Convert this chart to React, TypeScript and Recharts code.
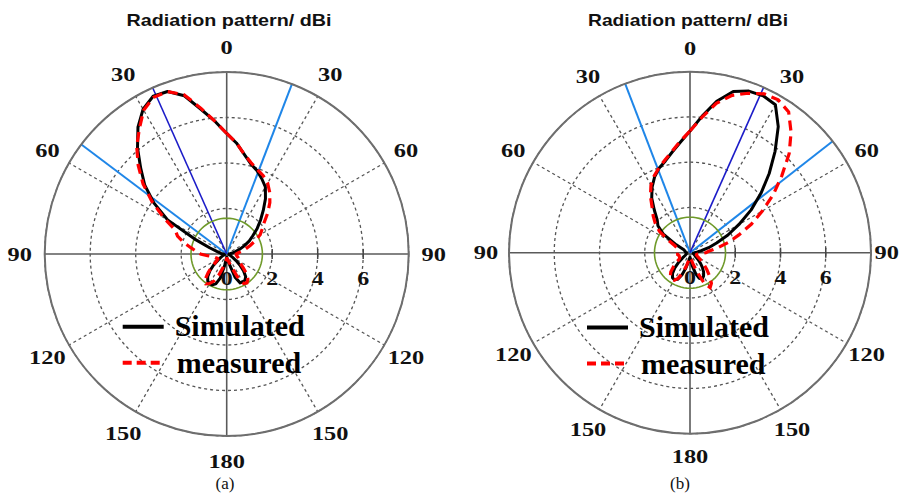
import React from 'react';
import { RadarChart, Radar, PolarGrid, PolarAngleAxis, PolarRadiusAxis } from 'recharts';

// Angles (degrees, clockwise from the top)
const angles = [
  0, 5, 10, 15, 20, 25, 30, 35, 40, 45, 50, 55, 60, 65, 70, 75, 80, 85,
  90, 95, 100, 105, 110, 115, 120, 125, 130, 135, 140, 145, 150, 155, 160, 165, 170, 175,
  180, 185, 190, 195, 200, 205, 210, 215, 220, 225, 230, 235, 240, 245, 250, 255, 260, 265,
  270, 275, 280, 285, 290, 295, 300, 305, 310, 315, 320, 325, 330, 335, 340, 345, 350, 355,
];

// Panel (a)
const simulatedA = [
  5.3, 4.9, 4.45, 4.1, 3.9, 3.65, 3.4, 2.97, 2.5, 2.1, 1.75, 1.4, 1.15, 0.85, 0.6, 0.4, 0.25, 0.15,
  0.1, 0.1, 0.1, 0.12, 0.15, 0.2, 0.3, 0.5, 0.75, 1.05, 1.3, 1.4, 1.42, 1.4, 1.1, 0.5, 0.3, 0.2,
  0.15, 0.2, 0.5, 1.1, 1.4, 1.5, 1.5, 1.45, 1.3, 1.05, 0.75, 0.45, 0.3, 0.2, 0.15, 0.1, 0.1, 0.12,
  0.15, 0.25, 0.3, 0.45, 0.8, 1.55, 3.0, 3.9, 4.7, 5.35, 6.1, 6.8, 7.35, 7.65, 7.6, 7.2, 6.45, 5.85,
];
const measuredA = [
  5.3, 4.9, 4.45, 4.15, 3.95, 3.8, 3.6, 3.3, 2.95, 2.55, 2.15, 1.9, 1.7, 1.4, 1.1, 0.85, 0.65, 0.5,
  0.42, 0.42, 0.45, 0.5, 0.55, 0.58, 0.62, 0.75, 0.95, 1.25, 1.45, 1.55, 1.5, 1.1, 0.6, 0.35, 0.25, 0.2,
  0.2, 0.3, 0.4, 0.6, 0.95, 1.3, 1.5, 1.6, 1.5, 1.15, 0.8, 0.55, 0.45, 0.45, 0.5, 0.55, 0.65, 0.85,
  1.15, 1.35, 1.6, 1.95, 2.3, 2.5, 3.2, 4.0, 4.8, 5.5, 6.15, 6.7, 7.3, 7.6, 7.6, 7.25, 6.5, 5.85,
];

// Panel (b)
const simulatedB = [
  5.38, 6.05, 6.8, 7.38, 7.6, 7.65, 7.55, 6.8, 5.85, 4.95, 4.1, 3.3, 2.5, 1.85, 1.25, 0.85, 0.5, 0.3,
  0.2, 0.18, 0.15, 0.15, 0.18, 0.2, 0.25, 0.3, 0.45, 0.65, 0.85, 1.05, 1.2, 1.28, 1.2, 0.95, 0.6, 0.3,
  0.2, 0.25, 0.4, 0.7, 1.05, 1.3, 1.38, 1.35, 1.2, 0.95, 0.65, 0.4, 0.25, 0.2, 0.18, 0.15, 0.15, 0.15,
  0.18, 0.2, 0.2, 0.22, 0.25, 0.3, 0.7, 1.45, 1.85, 2.05, 2.45, 2.95, 3.35, 3.7, 3.98, 4.2, 4.52, 4.9,
];
const measuredB = [
  5.38, 6.0, 6.7, 7.2, 7.5, 7.75, 7.8, 7.6, 6.95, 6.2, 5.3, 4.5, 3.7, 3.0, 2.3, 1.75, 1.25, 0.85,
  0.7, 0.5, 0.35, 0.3, 0.3, 0.35, 0.45, 0.6, 0.8, 1.05, 1.35, 1.65, 1.78, 1.5, 0.9, 0.5, 0.3, 0.25,
  0.2, 0.25, 0.35, 0.6, 0.95, 1.25, 1.4, 1.42, 1.35, 1.2, 0.95, 0.7, 0.55, 0.5, 0.5, 0.5, 0.55, 0.55,
  0.55, 0.55, 0.55, 0.55, 0.6, 0.75, 1.1, 1.65, 2.0, 2.3, 2.6, 3.05, 3.45, 3.75, 4.0, 4.25, 4.55, 4.95,
];

// Radial axis ticks (dBi) and reference ring
const radiusTicks = [0, 2, 4, 6, 8];
const radiusDomain = [0, 8];
const ringLevel = 1.57;

// Beam directions (degrees, clockwise from top)
const beamMainA = [-24];
const beamEdgesA = [-53, 21];
const beamMainB = [24];
const beamEdgesB = [-21, 52];

const dashedSpokes = [30, 60, 120, 150, 210, 240, 300, 330];
const solidSpokes = [0, 90, 180, 270];

const toChartAngle = (deg: number) => 90 - deg;

const buildRows = (sim: number[], mea: number[]) =>
  angles.map((a, i) => ({ angle: a, sim: sim[i], mea: mea[i], ring: ringLevel }));

const rowsA = buildRows(simulatedA, measuredA);
const rowsB = buildRows(simulatedB, measuredB);

const SERIF = '"Liberation Serif", "Times New Roman", serif';
const SANS = '"Liberation Sans", Arial, sans-serif';
const CHART_W = 450;

const AngleTick = (props: any) => {
  const { y, payload } = props;
  let x = props.x;
  const v = Number(payload.value);
  if (v % 30 !== 0) return <g />;
  const label = String(v <= 180 ? v : 360 - v);
  const w = label.length * 12.2;
  if (x + w / 2 > CHART_W - 1) x = CHART_W - 1 - w / 2;
  return (
    <text
      x={x}
      y={y}
      textAnchor="middle"
      dominantBaseline="central"
      fontFamily={SERIF}
      fontWeight="bold"
      fontSize={19}
      fill="#111"
      textLength={w}
      lengthAdjust="spacingAndGlyphs"
    >
      {label}
    </text>
  );
};

const RadiusTick = (props: any) => {
  const { x, y, payload } = props;
  const v = Number(payload.value);
  if (v >= 8) return <g />;
  const label = String(v);
  return (
    <g>
      {v > 0 && <line x1={x} y1={y - 5} x2={x} y2={y + 5} stroke="#444" strokeWidth={1.5} />}
      <text
        x={x}
        y={y + 31}
        textAnchor="middle"
        fontFamily={SERIF}
        fontWeight="bold"
        fontSize={19}
        fill="#111"
        textLength={label.length * 12}
        lengthAdjust="spacingAndGlyphs"
      >
        {label}
      </text>
    </g>
  );
};

type PanelProps = {
  rows: any[];
  left: number;
  cx: number;
  cy: number;
  r: number;
  labelGap: number;
  beamMain: number[];
  beamEdges: number[];
};

const Panel = ({ rows, left, cx, cy, r, labelGap, beamMain, beamEdges }: PanelProps) => (
  <div style={{ position: 'absolute', left, top: 0 }}>
    <RadarChart
      width={CHART_W}
      height={496}
      data={rows}
      cx={cx}
      cy={cy}
      outerRadius={r}
      startAngle={90}
      endAngle={-270}
      margin={{ top: 0, right: 0, bottom: 0, left: 0 }}
    >
      <PolarGrid
        gridType="circle"
        polarAngles={dashedSpokes.map(toChartAngle)}
        stroke="#555"
        strokeWidth={1.3}
        strokeDasharray="3 3"
      />
      <PolarGrid
        gridType="circle"
        polarAngles={solidSpokes.map(toChartAngle)}
        polarRadius={[]}
        stroke="#5a5a5a"
        strokeWidth={1.6}
      />
      <PolarGrid
        gridType="circle"
        polarAngles={beamEdges.map(toChartAngle)}
        polarRadius={[]}
        stroke="#1f86e8"
        strokeWidth={2}
      />
      <PolarGrid
        gridType="circle"
        polarAngles={beamMain.map(toChartAngle)}
        polarRadius={[]}
        stroke="#1c1cc8"
        strokeWidth={1.6}
      />
      <PolarAngleAxis
        dataKey="angle"
        tick={<AngleTick />}
        tickLine={false}
        tickSize={labelGap}
        axisLineType="circle"
        axisLine={{ stroke: '#6e6e6e', strokeWidth: 2 }}
      />
      <PolarRadiusAxis
        angle={0}
        domain={radiusDomain}
        ticks={radiusTicks}
        type="number"
        axisLine={false}
        tick={<RadiusTick />}
      />
      <Radar
        dataKey="ring"
        stroke="#6f9a2a"
        strokeWidth={1.6}
        fill="none"
        fillOpacity={0}
        dot={false}
        isAnimationActive={false}
      />
      <Radar
        dataKey="sim"
        name="Simulated"
        stroke="#000"
        strokeWidth={3}
        fill="none"
        fillOpacity={0}
        dot={false}
        strokeLinejoin="round"
        isAnimationActive={false}
      />
      <Radar
        dataKey="mea"
        name="measured"
        stroke="#ff0000"
        strokeWidth={3.2}
        strokeDasharray="10 6"
        fill="none"
        fillOpacity={0}
        dot={false}
        isAnimationActive={false}
      />
    </RadarChart>
  </div>
);

const LegendBlock = ({ x, y }: { x: number; y: number }) => (
  <g>
    <line x1={x} y1={y} x2={x + 41} y2={y} stroke="#000" strokeWidth={4} />
    <text x={x + 52} y={y + 9.5} fontFamily={SERIF} fontWeight="bold" fontSize={30} fill="#000">
      Simulated
    </text>
    <line x1={x} y1={y + 36} x2={x + 41} y2={y + 36} stroke="#ff0000" strokeWidth={4} strokeDasharray="9 5" />
    <text x={x + 54} y={y + 46} fontFamily={SERIF} fontWeight="bold" fontSize={30} fill="#000">
      measured
    </text>
  </g>
);

export default function App() {
  return (
    <div
      style={{
        position: 'absolute',
        left: 0,
        top: 0,
        width: 900,
        height: 496,
        background: '#fff',
        overflow: 'hidden',
      }}
    >
      <Panel rows={rowsA} left={0} cx={226.7} cy={254} r={182} labelGap={25} beamMain={beamMainA} beamEdges={beamEdgesA} />
      <Panel rows={rowsB} left={450} cx={240} cy={252.7} r={181} labelGap={23} beamMain={beamMainB} beamEdges={beamEdgesB} />
      <svg
        width={900}
        height={496}
        style={{ position: 'absolute', left: 0, top: 0, pointerEvents: 'none' }}
      >
        <text x={229} y={26} textAnchor="middle" fontFamily={SANS} fontWeight="bold" fontSize={16.5} fill="#111" textLength={205} lengthAdjust="spacingAndGlyphs">
          Radiation pattern/ dBi
        </text>
        <text x={688} y={26} textAnchor="middle" fontFamily={SANS} fontWeight="bold" fontSize={16.5} fill="#111" textLength={200} lengthAdjust="spacingAndGlyphs">
          Radiation pattern/ dBi
        </text>
        <LegendBlock x={122.7} y={326.7} />
        <LegendBlock x={587} y={327.5} />
        <text x={225} y={489} textAnchor="middle" fontFamily={SERIF} fontSize={17} fill="#111">
          (a)
        </text>
        <text x={680} y={489} textAnchor="middle" fontFamily={SERIF} fontSize={17} fill="#111">
          (b)
        </text>
      </svg>
    </div>
  );
}
